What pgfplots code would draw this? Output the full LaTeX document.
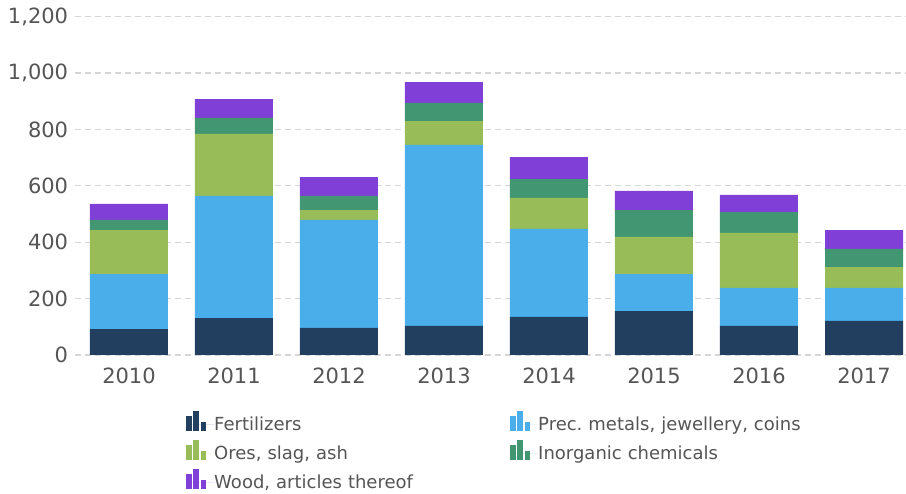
\documentclass[border=0pt]{standalone}
\usepackage{pgfplots}
\pgfplotsset{compat=1.18}
\usepackage{pgfplotstable}
\usepackage{fontspec}
\setmainfont{DejaVu Sans}
\frenchspacing
\definecolor{cfert}{HTML}{233F5F}
\definecolor{cprec}{HTML}{49AEEA}
\definecolor{cores}{HTML}{98BD58}
\definecolor{cinorg}{HTML}{439672}
\definecolor{cwood}{HTML}{803FD6}
\definecolor{ctick}{HTML}{555555}
\definecolor{cgrid}{HTML}{D6D6D6}

\pgfplotstableread{
x fert prec ores inorg wood
0 92 195 156 36 57
1 131 433 220 57 67
2 96 383 35 50 67
3 103 642 85 64 74
4 135 312 110 67 78
5 156 131 132 95 68
6 103 135 195 74 61
7 121 117 74 64 67
}\datatable

\pgfplotsset{
  mylegend/.style={legend image code/.code={
    \fill (0pt,-6.5pt) rectangle (5.5pt,8.5pt);
    \fill (7.2pt,-6.5pt) rectangle (12.7pt,13.5pt);
    \fill (14.4pt,-6.5pt) rectangle (19.9pt,2.5pt);
    \path (0pt,0pt) -- (28pt,0pt);
  }}
}

\begin{document}
\frenchspacing
\begin{tikzpicture}
\begin{axis}[
  at={(75pt,139pt)}, anchor=south west,
  scale only axis, width=831pt, height=338.3pt,
  xmin=-0.514, xmax=7.4, ymin=0, ymax=1200,
  ybar stacked, bar width=78pt,
  axis line style={draw=none},
  major tick length=0pt,
  xtick={0,...,7},
  xticklabels={2010,2011,2012,2013,2014,2015,2016,2017},
  ytick={0,200,...,1200},
  scaled y ticks=false,
  /pgf/number format/assume math mode=true,
  /pgf/number format/1000 sep={,},
  ymajorgrids,
  grid style={cgrid, line width=1.3pt, dash pattern=on 6pt off 4pt},
  ticklabel style={font=\fontsize{21}{25}\selectfont, text=ctick, inner sep=0pt},
  yticklabel style={anchor=east, xshift=-6.7pt},
  xticklabel style={anchor=north, yshift=-13pt},
  legend columns=2,
  legend cell align=left,
  legend style={at={(axis description cs:0.1336,-0.164)}, anchor=north west,
    draw=none, fill=none, inner sep=0pt, row sep=9pt,
    font=\fontsize{18}{22}\selectfont\frenchspacing, text=ctick,
    nodes={inner sep=0pt, text height=13pt, text depth=0pt, text width=296pt, align=left}},
]
\addplot[fill=cfert, draw=none, mylegend] table[x=x, y=fert] {\datatable};
\addlegendentry{Fertilizers}
\addplot[fill=cprec, draw=none, mylegend] table[x=x, y=prec] {\datatable};
\addlegendentry{Prec.\ metals, jewellery, coins}
\addplot[fill=cores, draw=none, mylegend] table[x=x, y=ores] {\datatable};
\addlegendentry{Ores, slag, ash}
\addplot[fill=cinorg, draw=none, mylegend] table[x=x, y=inorg] {\datatable};
\addlegendentry{Inorganic chemicals}
\addplot[fill=cwood, draw=none, mylegend] table[x=x, y=wood] {\datatable};
\addlegendentry{Wood, articles thereof}
\end{axis}
\pgfresetboundingbox
\path (0,0) rectangle (906pt,494pt);
\end{tikzpicture}
\end{document}
